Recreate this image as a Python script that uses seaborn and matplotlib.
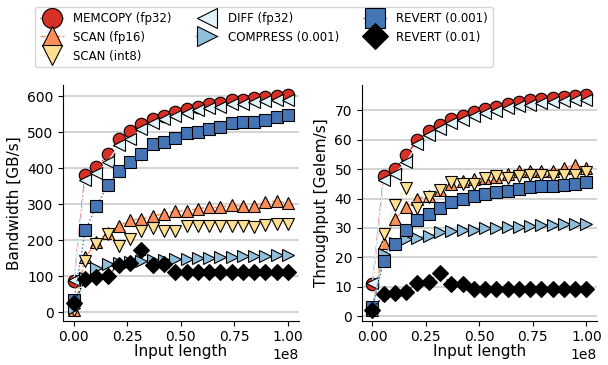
import matplotlib
matplotlib.use('Agg')
import matplotlib.pyplot as plt
from matplotlib.ticker import MultipleLocator
import seaborn as sns
import pandas as pd

# input lengths (20 sizes up to 1e8)
input_len = [0, 5263158, 10526316, 15789474, 21052632, 26315789, 31578947,
             36842105, 42105263, 47368421, 52631579, 57894737, 63157895,
             68421053, 73684211, 78947368, 84210526, 89473684, 94736842, 100000000]

names = ['MEMCOPY (fp32)', 'SCAN (fp16)', 'SCAN (int8)', 'DIFF (fp32)',
         'COMPRESS (0.001)', 'REVERT (0.001)', 'REVERT (0.01)']

# bandwidth [GB/s]
bw_memcopy = [87, 382, 402, 438, 480, 503, 524, 537, 546, 556, 563, 571, 577, 581, 588, 590, 595, 599, 600, 602]
bw_scan16 = [5, 153, 194, 221, 240, 256, 259, 267, 274, 281, 281, 288, 291, 291, 297, 294, 294, 306, 309, 303]
bw_scan8 = [5, 142, 189, 216, 185, 204, 225, 234, 225, 225, 239, 240, 239, 239, 239, 239, 237, 243, 245, 245]
bw_diff = [90, 366, 386, 418, 463, 482, 509, 525, 536, 545, 554, 561, 566, 570, 577, 579, 584, 586, 588, 590]
bw_compress = [12, 95, 122, 133, 138, 140, 142, 144, 144, 147, 149, 151, 152, 153, 154, 155, 155, 156, 158, 158]
bw_revert1 = [35, 227, 294, 353, 391, 416, 440, 467, 473, 485, 497, 501, 509, 514, 526, 527, 528, 533, 541, 549]
bw_revert2 = [27, 91, 99, 101, 132, 137, 174, 132, 133, 111, 111, 111, 111, 111, 111, 111, 111, 111, 111, 113]

# throughput [Gelem/s]
tp_memcopy = [10.8, 47.7, 50.0, 54.7, 59.9, 62.9, 65.2, 67.1, 68.2, 69.6, 70.4, 71.2, 72.1, 72.8, 73.4, 73.8, 74.1, 74.6, 74.9, 75.1]
tp_scan16 = [2.2, 25.0, 33.0, 37.0, 40.0, 41.0, 43.0, 45.0, 46.0, 46.5, 47.0, 47.5, 48.5, 49.5, 49.5, 49.5, 49.5, 50.5, 51.3, 50.3]
tp_scan8 = [2.0, 27.8, 37.9, 43.6, 36.8, 40.5, 43.0, 45.6, 44.9, 44.9, 47.1, 47.7, 47.1, 47.7, 48.0, 48.0, 47.8, 48.0, 48.0, 49.1]
tp_diff = [11.3, 46.2, 48.5, 52.5, 58.4, 61.5, 63.8, 65.6, 66.9, 68.2, 69.0, 69.8, 70.7, 71.4, 72.0, 72.4, 72.8, 73.2, 73.5, 73.7]
tp_compress = [2.5, 21.0, 24.8, 26.3, 26.7, 27.4, 28.5, 28.9, 29.3, 29.3, 30.0, 30.0, 30.2, 30.4, 30.8, 31.0, 31.1, 31.3, 31.3, 31.3]
tp_revert1 = [3.0, 18.7, 24.5, 29.3, 32.7, 34.9, 36.8, 38.9, 39.7, 40.7, 41.4, 42.1, 42.6, 43.1, 43.8, 44.1, 44.2, 44.5, 44.9, 45.6]
tp_revert2 = [1.9, 7.4, 8.0, 8.2, 11.3, 11.6, 14.7, 10.8, 10.8, 9.1, 9.3, 9.3, 9.3, 9.3, 9.3, 9.3, 9.3, 9.3, 9.3, 9.3]

colors = ['#d73027', '#fc8d59', '#fee090', '#e0f3f8', '#91bfdb', '#4575b4', 'black']
markers = ['o', '^', 'v', '<', '>', 's', 'D']
lstyles = ['-.', '--', ':', '-', '--', ':', ':']

bw = [bw_memcopy, bw_scan16, bw_scan8, bw_diff, bw_compress, bw_revert1, bw_revert2]
tp = [tp_memcopy, tp_scan16, tp_scan8, tp_diff, tp_compress, tp_revert1, tp_revert2]

sns.set_theme(style='ticks', context='notebook', rc={
    'xtick.labelsize': 10, 'ytick.labelsize': 10, 'axes.labelsize': 11,
    'xtick.major.size': 3.5, 'ytick.major.size': 3.5,
    'xtick.major.width': 0.8, 'ytick.major.width': 0.8,
    'xtick.major.pad': 2.5, 'ytick.major.pad': 3.5,
    'axes.linewidth': 0.8, 'axes.edgecolor': 'black',
    'text.color': 'black', 'axes.labelcolor': 'black',
    'xtick.color': 'black', 'ytick.color': 'black'})
plt.rcParams['font.family'] = ['DejaVu Sans']

fig = plt.figure(figsize=(6.08, 3.65), dpi=100)
ax1 = fig.add_axes([0.104, 0.12, 0.387, 0.648])
ax2 = fig.add_axes([0.595, 0.12, 0.387, 0.648])

for ax, data, ylabel, step in [(ax1, bw, 'Bandwidth [GB/s]', 100), (ax2, tp, 'Throughput [Gelem/s]', 10)]:
    ax.yaxis.grid(True, color='#cccccc', linewidth=1.2)
    ax.set_axisbelow(True)
    for i, name in enumerate(names):
        df = pd.DataFrame({'x': input_len, 'y': data[i]})
        sns.lineplot(data=df, x='x', y='y', ax=ax, color=colors[i], marker=markers[i],
                     linestyle=lstyles[i], linewidth=1, markersize=9 if markers[i] != 'D' else 8,
                     markeredgecolor='black', markeredgewidth=0.8, label=name, legend=False,
                     errorbar=None)
    ax.yaxis.set_major_locator(MultipleLocator(step))
    ax.set_xlabel('Input length', labelpad=0)
    ax.set_ylabel(ylabel)
    sns.despine(ax=ax)

handles, labels = ax1.get_legend_handles_labels()
fig.legend(handles, labels, loc='upper center', bbox_to_anchor=(0.434, 0.997), ncol=3,
           fontsize=8.5, markerscale=1.6, frameon=True, columnspacing=2.0)

fig.savefig('out.png', dpi=100)
